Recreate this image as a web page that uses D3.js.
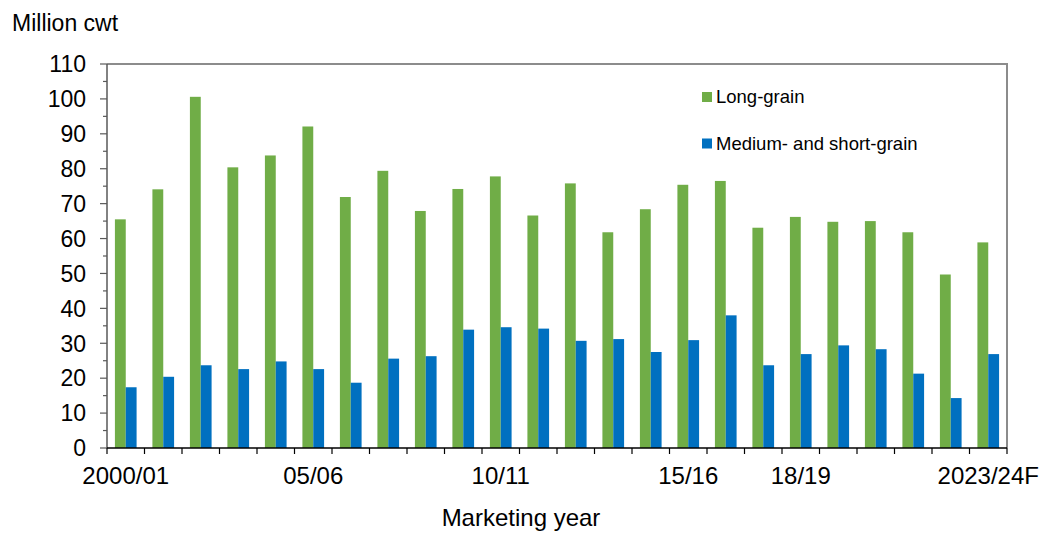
<!DOCTYPE html>
<html>
<head>
<meta charset="utf-8">
<script src="https://cdn.jsdelivr.net/npm/d3@7"></script>
<style>
  html, body { margin: 0; padding: 0; background: #fff; }
  svg { display: block; font-family: Arial, "Liberation Sans", sans-serif; }
</style>
</head>
<body>
<svg id="chart" width="1041" height="533"></svg>
<script>
// U.S. rice supply by class, million cwt
const categories = ["2000/01","01/02","02/03","03/04","04/05","05/06","06/07","07/08","08/09","09/10",
  "10/11","11/12","12/13","13/14","14/15","15/16","16/17","17/18","18/19","19/20",
  "20/21","21/22","22/23","2023/24F"];
const longGrain = [65.5, 74.1, 100.6, 80.4, 83.8, 92.1, 71.9, 79.4, 67.9, 74.2,
  77.8, 66.6, 75.8, 61.8, 68.4, 75.4, 76.5, 63.1, 66.2, 64.8,
  65.0, 61.8, 49.7, 58.9];
const mediumShortGrain = [17.4, 20.4, 23.7, 22.6, 24.8, 22.6, 18.7, 25.6, 26.3, 33.9,
  34.6, 34.2, 30.7, 31.2, 27.5, 30.9, 38.0, 23.7, 26.9, 29.4,
  28.3, 21.3, 14.3, 26.9];
const seriesNames = ["Long-grain", "Medium- and short-grain"];
const seriesColors = ["#70AD47", "#0070C0"];
const shownLabels = ["2000/01", "05/06", "10/11", "15/16", "18/19", "2023/24F"];
const yTicks = [0, 10, 20, 30, 40, 50, 60, 70, 80, 90, 100, 110];

const svg = d3.select("#chart");
const plotLeft = 107, plotRight = 1007, plotTop = 64, plotBottom = 448;

const x0 = d3.scaleBand().domain(categories).range([plotLeft, plotRight]).padding(0);
const x1 = d3.scaleBand().domain(seriesNames).range([0, x0.bandwidth()])
  .paddingInner(0).paddingOuter(0.73);
const y = d3.scaleLinear().domain([0, 110]).range([plotBottom, plotTop]);

const rows = categories.map((c, i) => ({ cat: c, vals: [longGrain[i], mediumShortGrain[i]] }));

// Bars
const groups = svg.append("g").selectAll("g").data(rows).join("g")
  .attr("transform", d => `translate(${x0(d.cat)},0)`);
groups.selectAll("rect")
  .data(d => d.vals.map((v, k) => ({ v, k })))
  .join("rect")
  .attr("x", d => x1(seriesNames[d.k]))
  .attr("width", x1.bandwidth())
  .attr("y", d => y(d.v))
  .attr("height", d => y(0) - y(d.v))
  .attr("fill", d => seriesColors[d.k]);

// Plot frame (top and right)
svg.append("path")
  .attr("d", `M${plotLeft},${plotTop}H${plotRight}V${plotBottom}`)
  .attr("fill", "none").attr("stroke", "#8c8c8c").attr("stroke-width", 2);

// Y axis with major and minor ticks
const yAxis = svg.append("g");
yAxis.append("line").attr("x1", plotLeft).attr("x2", plotLeft).attr("y1", plotTop).attr("y2", plotBottom)
  .attr("stroke", "#595959").attr("stroke-width", 1.5);
const minor = d3.range(5, 110, 10);
yAxis.selectAll("line.minor").data(minor).join("line").attr("class", "minor")
  .attr("x1", plotLeft - 4).attr("x2", plotLeft).attr("y1", d => y(d)).attr("y2", d => y(d))
  .attr("stroke", "#595959").attr("stroke-width", 1.2);
yAxis.selectAll("line.major").data(yTicks).join("line").attr("class", "major")
  .attr("x1", plotLeft - 7).attr("x2", plotLeft).attr("y1", d => y(d)).attr("y2", d => y(d))
  .attr("stroke", "#595959").attr("stroke-width", 1.2);
yAxis.selectAll("text").data(yTicks).join("text")
  .attr("x", 86).attr("y", d => y(d)).attr("dy", "0.36em")
  .attr("text-anchor", "end").attr("font-size", 23).attr("fill", "#000")
  .text(d => d);

// X axis: ticks at category boundaries, labels on selected years
const xAxis = svg.append("g");
const boundaries = categories.map(c => x0(c)).concat([plotRight]);
xAxis.selectAll("line.tick").data(boundaries).join("line").attr("class", "tick")
  .attr("x1", d => d).attr("x2", d => d).attr("y1", plotBottom).attr("y2", plotBottom + 6)
  .attr("stroke", "#000").attr("stroke-width", 1.2);
xAxis.append("line").attr("x1", plotLeft).attr("x2", plotRight).attr("y1", plotBottom).attr("y2", plotBottom)
  .attr("stroke", "#000").attr("stroke-width", 1.5);
xAxis.selectAll("text").data(shownLabels).join("text")
  .attr("x", d => x0(d) + x0.bandwidth() / 2).attr("y", 484)
  .attr("text-anchor", "middle").attr("font-size", 24).attr("fill", "#000")
  .text(d => d);

// Axis titles
svg.append("text").attr("x", 12).attr("y", 31).attr("font-size", 23).attr("fill", "#000")
  .text("Million cwt");
svg.append("text").attr("x", 521).attr("y", 526).attr("text-anchor", "middle")
  .attr("font-size", 24).attr("fill", "#000").text("Marketing year");

// Legend
const legend = svg.append("g");
const legendY = [92, 138.5];
seriesNames.forEach((name, k) => {
  legend.append("rect").attr("x", 702).attr("y", legendY[k]).attr("width", 10).attr("height", 10)
    .attr("fill", seriesColors[k]);
  legend.append("text").attr("x", 716).attr("y", legendY[k] + 11)
    .attr("font-size", 18.5).attr("fill", "#000").text(name);
});
</script>
</body>
</html>
